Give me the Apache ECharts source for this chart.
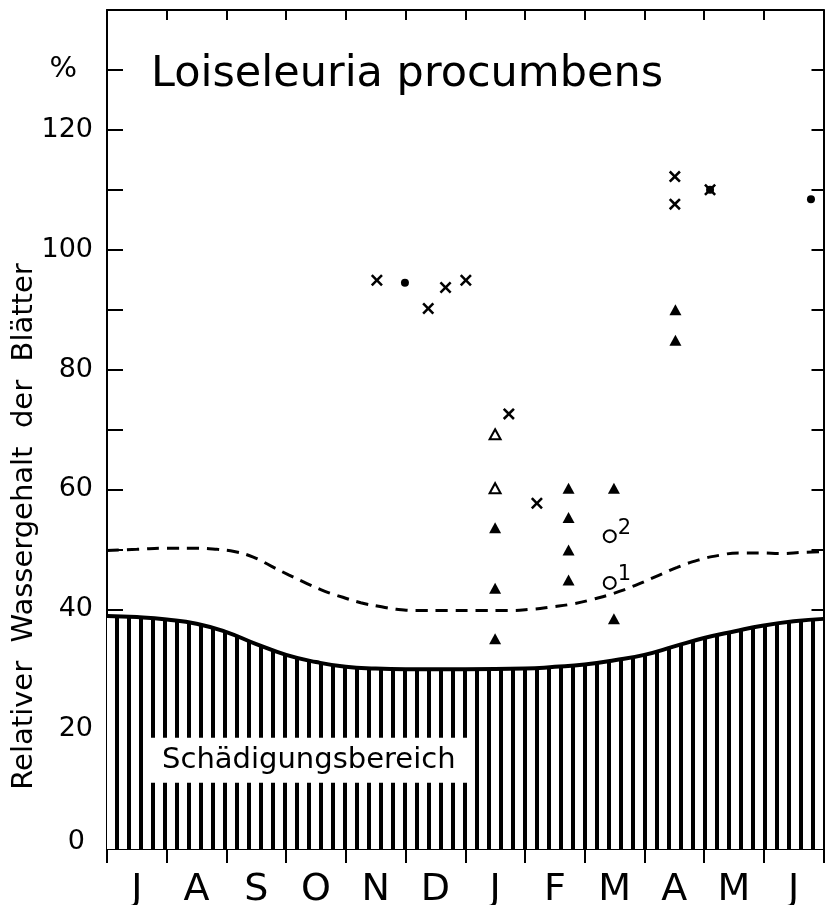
<!DOCTYPE html>
<html>
<head>
<meta charset="utf-8">
<script src="https://cdn.jsdelivr.net/npm/echarts@6/dist/echarts.min.js"></script>
<style>
html,body{margin:0;padding:0;background:#fff;}
#chart{width:825px;height:905px;}
</style>
</head>
<body>
<div id="chart"></div>
<script>
// Months (x axis: 0 = start of July, 12 = end of June)
const months = ['J','A','S','O','N','D','J','F','M','A','M','J'];

// Lower boundary of the damage zone ("Schädigungsbereich"), [month, %]
const damageBoundary = [
  [0, 38.9], [0.5, 38.7], [1, 38.3], [1.5, 37.6], [2, 36.2], [2.5, 34.2],
  [3, 32.4], [3.5, 31.2], [4, 30.4], [4.5, 30.1], [5, 30.0], [6, 30.0],
  [7, 30.1], [7.5, 30.4], [8, 30.8], [8.5, 31.5], [9, 32.4], [9.5, 33.8],
  [10, 35.2], [10.5, 36.3], [11, 37.3], [11.5, 38.0], [12, 38.4]
];

// Dashed line, [month, %]
const dashedLine = [
  [0, 49.8], [0.5, 50.0], [1.0, 50.2], [1.5, 50.2], [1.85, 50.0], [2.15, 49.6],
  [2.45, 48.7], [2.75, 47.2], [3.05, 45.7], [3.35, 44.3], [3.65, 43.0],
  [3.95, 42.0], [4.25, 41.1], [4.55, 40.5], [4.85, 40.0], [5.2, 39.8],
  [5.7, 39.8], [6.2, 39.8], [6.7, 39.8], [7.1, 40.0], [7.45, 40.4],
  [7.8, 40.9], [8.15, 41.7], [8.5, 42.7], [8.85, 44.0], [9.2, 45.5],
  [9.55, 47.0], [9.9, 48.2], [10.25, 49.0], [10.6, 49.4], [10.95, 49.4],
  [11.3, 49.3], [11.65, 49.5], [12, 49.6]
];

// Measurements, [month, %]
const crosses = [
  [4.52, 94.9], [5.38, 90.2], [5.67, 93.7], [6.01, 94.9],
  [6.73, 72.6], [7.20, 57.7], [9.51, 112.2], [9.51, 107.6], [10.10, 110.0]
];
const dots = [[4.99, 94.5], [10.10, 110.0], [11.79, 108.4]];
const openTriangles = [[6.50, 69.2], [6.50, 60.2]];
const filledTriangles = [
  [6.50, 53.6], [6.50, 43.5], [6.50, 35.1],
  [7.73, 60.2], [7.73, 55.3], [7.73, 49.9], [7.73, 44.9],
  [8.49, 60.2], [8.49, 38.4],
  [9.52, 90.0], [9.52, 84.9]
];
const openCircles = [[8.42, 52.2], [8.42, 44.4]];
const openCircleNotes = ['2', '1'];

// Annotation position for the damage-zone label, [month, %]
const damageLabelAt = [3.38, 14.8];

const FONT = 'DejaVu Sans';

// vertical hatching pattern
const pc = document.createElement('canvas');
pc.width = 12; pc.height = 12;
const pctx = pc.getContext('2d');
pctx.fillStyle = '#fff'; pctx.fillRect(0, 0, 12, 12);
pctx.fillStyle = '#000'; pctx.fillRect(7, 0, 4, 12);

const crossPath = 'path://M1.5,0 L5,3.5 L8.5,0 L10,1.5 L6.5,5 L10,8.5 L8.5,10 L5,6.5 L1.5,10 L0,8.5 L3.5,5 L0,1.5 Z';

const chart = echarts.init(document.getElementById('chart'), null, {renderer: 'canvas'});
chart.setOption({
  backgroundColor: '#fff',
  animation: false,
  title: {
    text: 'Loiseleuria procumbens',
    left: 146, top: 48,
    textStyle: {fontFamily: FONT, fontSize: 43, fontWeight: 'normal', color: '#000'}
  },
  grid: {left: 107, right: 1.5, top: 10, bottom: 56, containLabel: false, outerBoundsMode: 'none'},
  xAxis: [
    {
      type: 'value', min: 0, max: 12, interval: 1, position: 'bottom',
      axisLine: {onZero: false, lineStyle: {color: '#000', width: 2}},
      axisTick: {show: true, inside: false, length: 14, lineStyle: {color: '#000', width: 2}},
      axisLabel: {show: false}, splitLine: {show: false}
    },
    {
      type: 'value', min: 0, max: 12, interval: 0.5, position: 'bottom',
      axisLine: {show: false, onZero: false}, axisTick: {show: false}, splitLine: {show: false},
      axisLabel: {
        margin: 22, fontFamily: FONT, fontSize: 38, color: '#000',
        formatter: function (v) {
          const i = Math.floor(v);
          return (Math.abs(v - i - 0.5) < 1e-6 && i < months.length) ? months[i] : '';
        }
      }
    },
    {
      type: 'value', min: 0, max: 12, interval: 1, position: 'top',
      axisLine: {onZero: false, lineStyle: {color: '#000', width: 2}},
      axisTick: {show: true, inside: true, length: 10, lineStyle: {color: '#000', width: 2}},
      axisLabel: {show: false}, splitLine: {show: false}
    }
  ],
  yAxis: [
    {
      type: 'value', min: 0, max: 140, interval: 10, position: 'left',
      name: 'Relativer  Wassergehalt  der  Blätter',
      nameLocation: 'middle', nameGap: 68, nameMoveOverlap: false,
      nameTextStyle: {fontFamily: FONT, fontSize: 29, color: '#000', padding: [0, 194, 0, 0]},
      axisLine: {onZero: false, lineStyle: {color: '#000', width: 2}},
      axisTick: {show: true, inside: true, length: 16, lineStyle: {color: '#000', width: 2}},
      splitLine: {show: false},
      axisLabel: {
        margin: 14, fontFamily: FONT, fontSize: 27, color: '#000',
        formatter: function (v) {
          if (v === 0) return '{z|0}';
          if (v === 130) return '{p|%}';
          if (v % 20 === 0 && v <= 120) return String(v);
          return '';
        },
        rich: {
          z: {fontFamily: FONT, fontSize: 27, color: '#000', padding: [0, 8, 14, 0]},
          p: {fontFamily: FONT, fontSize: 29, color: '#000', padding: [0, 16, 0, 0]}
        }
      }
    },
    {
      type: 'value', min: 0, max: 140, interval: 10, position: 'right',
      axisLine: {onZero: false, lineStyle: {color: '#000', width: 2}},
      axisTick: {show: true, inside: true, length: 12, lineStyle: {color: '#000', width: 2}},
      axisLabel: {show: false}, splitLine: {show: false}
    }
  ],
  series: [
    {
      type: 'line', xAxisIndex: 0, yAxisIndex: 0, data: damageBoundary,
      smooth: 0.5, symbol: 'none',
      lineStyle: {color: '#000', width: 4},
      areaStyle: {color: {image: pc, repeat: 'repeat'}, opacity: 1},
      z: 2
    },
    {
      type: 'line', xAxisIndex: 0, yAxisIndex: 0, data: dashedLine,
      smooth: 0.5, symbol: 'none',
      lineStyle: {color: '#000', width: 3, type: [12, 8]},
      z: 3
    },
    {
      type: 'scatter', xAxisIndex: 0, yAxisIndex: 0,
      data: [damageLabelAt], symbolSize: 0, z: 5, silent: true,
      itemStyle: {opacity: 1},
      label: {
        show: true, position: 'inside', formatter: 'Schädigungsbereich',
        fontFamily: FONT, fontSize: 29, color: '#000',
        backgroundColor: '#fff', padding: [8, 12, 8, 12]
      }
    },
    {
      type: 'scatter', xAxisIndex: 0, yAxisIndex: 0, data: dots,
      symbol: 'circle', symbolSize: 8, itemStyle: {color: '#000', opacity: 1}, z: 6
    },
    {
      type: 'scatter', xAxisIndex: 0, yAxisIndex: 0, data: crosses,
      symbol: crossPath, symbolSize: 12, itemStyle: {color: '#000', opacity: 1}, z: 6
    },
    {
      type: 'scatter', xAxisIndex: 0, yAxisIndex: 0, data: filledTriangles,
      symbol: 'triangle', symbolSize: [12, 11], itemStyle: {color: '#000', opacity: 1}, z: 6
    },
    {
      type: 'scatter', xAxisIndex: 0, yAxisIndex: 0, data: openTriangles,
      symbol: 'triangle', symbolSize: [11, 10],
      itemStyle: {color: '#fff', borderColor: '#000', borderWidth: 2, opacity: 1}, z: 6
    },
    {
      type: 'scatter', xAxisIndex: 0, yAxisIndex: 0,
      data: openCircles.map(function (p, i) {
        return {value: p, label: {formatter: openCircleNotes[i]}};
      }),
      symbol: 'circle', symbolSize: 12,
      itemStyle: {color: '#fff', borderColor: '#000', borderWidth: 2, opacity: 1}, z: 6,
      label: {show: true, position: 'right', distance: 1, offset: [0, -8],
        fontFamily: FONT, fontSize: 21, color: '#000'}
    }
  ]
});
</script>
</body>
</html>
